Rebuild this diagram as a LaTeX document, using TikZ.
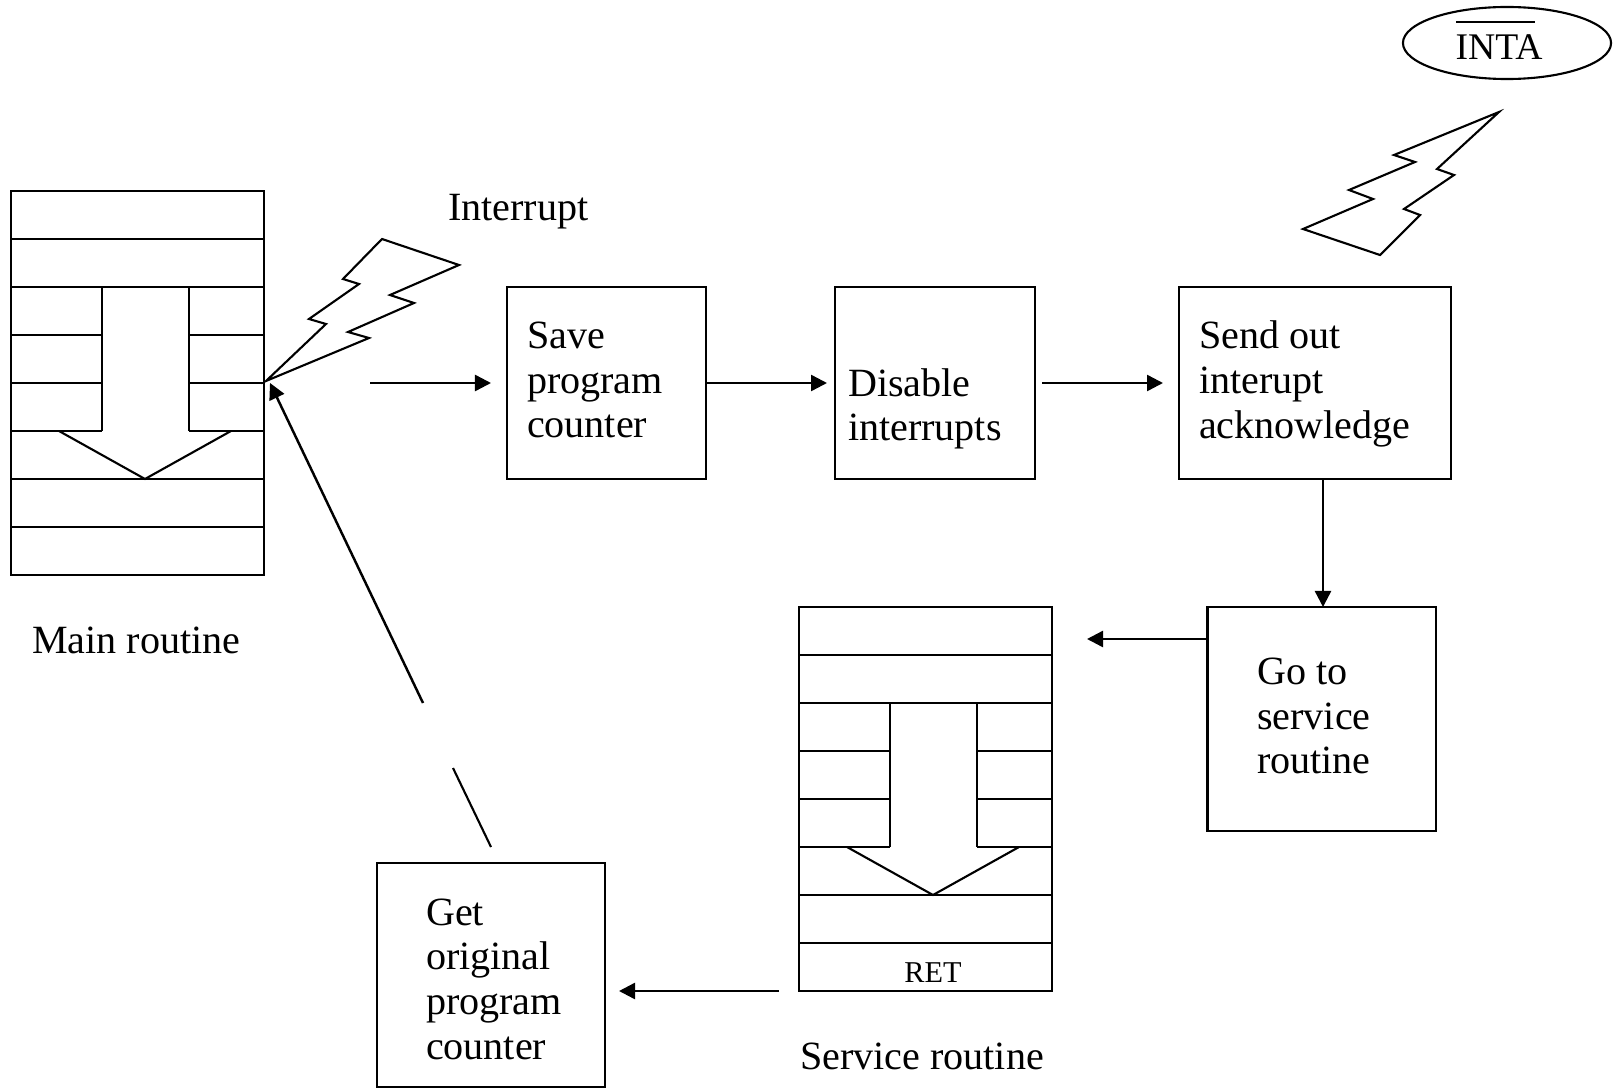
\documentclass[tikz,border=0pt]{standalone}
\usepackage{fontspec}
\setmainfont{Liberation Serif}
\usetikzlibrary{arrows.meta,shapes.geometric}
\tikzset{
  box/.style={draw,line width=0.6pt,outer sep=0pt,inner sep=0pt},
  txt/.style={anchor=west,align=left,inner sep=0pt,font=\fontsize{11.4}{12.7}\selectfont},
  arr/.style={line width=0.7pt,-{Triangle[length=0.16cm,width=0.16cm]}},
  bolt/.style={line width=0.6pt,line join=miter}
}
\begin{document}
\begin{tikzpicture}[x=0.01cm,y=-0.01cm,line width=0.6pt]
\useasboundingbox (0,0) rectangle (1618,1088);

%stacks
\foreach \sx/\sy in {11/191,799/607}{
\begin{scope}[shift={(\sx,\sy)}]
\draw (0,0) rectangle (253,384);
\foreach \r in {48,96,288,336} \draw (0,\r) -- (253,\r);
\foreach \r in {144,192,240} {
\draw (0,\r) -- (91,\r);
\draw (178,\r) -- (253,\r);
}
\draw (91,96) -- (91,240);
\draw (178,96) -- (178,240);
\draw (48,240) -- (134,288) -- (220,240);
\end{scope}
}

\node[txt] (mainlbl) at (31,640) {Main routine};
\node[txt] (svclbl) at (799,1056) {Service routine};
\node[txt] (intlbl) at (447,212) {Interrupt};
\node[inner sep=0pt,font=\fontsize{8.6}{10}\selectfont] (ret) at (933,973) {RET};

%boxes
\node[box,minimum width=1.99cm,minimum height=1.92cm] (save) at (606.5,383) {};
\node[box,minimum width=2cm,minimum height=1.92cm] (disable) at (935,383) {};
\node[box,minimum width=2.715cm,minimum height=1.92cm] (send) at (1315.25,383) {};
\node[box,minimum width=2.28cm,minimum height=2.24cm] (goto) at (1321.5,719) {};
\node[box,minimum width=2.28cm,minimum height=2.24cm] (get) at (491,975) {};

\node[txt] (savetxt) at (526,380) {Save\\program\\counter};
\node[txt] (disabletxt) at (847,409) {Disable\\interrupts};
\node[txt] (sendtxt) at (1198,384) {Send out\\interupt\\acknowledge};
\node[txt] (gototxt) at (1256,716) {Go to\\service\\routine};
\node[txt] (gettxt) at (425,979) {Get\\original\\program\\counter};

%INTA
\node[draw,ellipse,minimum width=2.08cm,minimum height=0.72cm,inner sep=0pt] (inta) at (1507,43) {};
\node[inner sep=0pt,font=\fontsize{10.7}{12}\selectfont] (intatxt) at (1499,47) {INTA};
\draw (1456,22) -- (1535,22);

%bolts
\draw[bolt] (266,381) -- (326,324) -- (309,319) -- (359,284) -- (343,279) -- (382,239) -- (459,265) -- (390,295) -- (414,303) -- (348,332) -- (369,338) -- cycle;
\draw[bolt] (1499,112) -- (1437,169) -- (1454,175) -- (1404,209) -- (1420,215) -- (1380,255) -- (1303,229) -- (1373,199) -- (1349,190) -- (1415,162) -- (1394,155) -- cycle;

%free ends
\coordinate (intin) at (370,383);
\coordinate (savein) at (491,383);
\coordinate (disablein) at (827,383);
\coordinate (sendout) at (1042,383);
\coordinate (sendin) at (1163,383);
\coordinate (sendoff) at (1323,479);
\coordinate (gotoin) at (1323,607);
\coordinate (svcin) at (1087,639);
\coordinate (svcout) at (779,991);
\coordinate (getin) at (619,991);
\coordinate (backa) at (491,847);
\coordinate (backb) at (453,768);
\coordinate (backc) at (423,703);
\coordinate (maintip) at (270,383);

\draw[arr] (intin) -- (savein);
\draw[arr] (save.east) -- (disablein);
\draw[arr] (sendout) -- (sendin);
\draw[arr] (sendoff) -- (gotoin);
\draw[arr] (goto.west |- svcin) -- (svcin);
\draw[arr] (svcout) -- (getin);
\draw (backa) -- (backb);
\draw[arr] (backc) -- (maintip);
\end{tikzpicture}
\end{document}
